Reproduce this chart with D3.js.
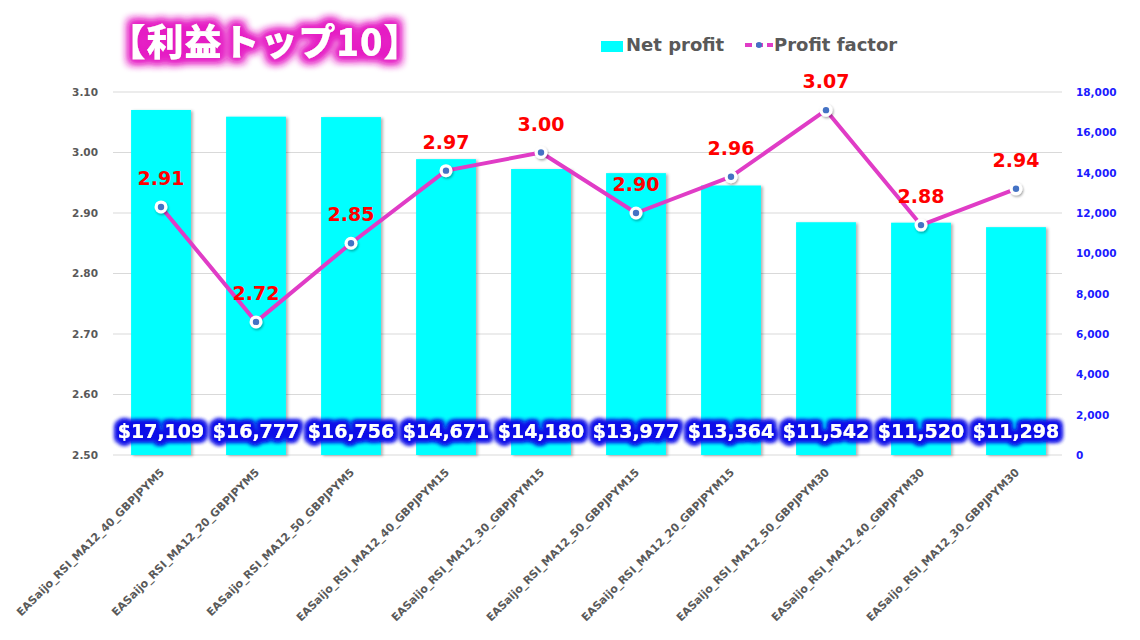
<!DOCTYPE html>
<html>
<head>
<meta charset="utf-8">
<script src="https://cdn.jsdelivr.net/npm/d3@7"></script>
<style>
  html, body { margin: 0; padding: 0; background: #ffffff; }
  svg { display: block; }
</style>
</head>
<body>
<svg id="chart" width="1140" height="640"></svg>
<script>
const categories = [
  "EASaijo_RSI_MA12_40_GBPJPYM5",
  "EASaijo_RSI_MA12_20_GBPJPYM5",
  "EASaijo_RSI_MA12_50_GBPJPYM5",
  "EASaijo_RSI_MA12_40_GBPJPYM15",
  "EASaijo_RSI_MA12_30_GBPJPYM15",
  "EASaijo_RSI_MA12_50_GBPJPYM15",
  "EASaijo_RSI_MA12_20_GBPJPYM15",
  "EASaijo_RSI_MA12_50_GBPJPYM30",
  "EASaijo_RSI_MA12_40_GBPJPYM30",
  "EASaijo_RSI_MA12_30_GBPJPYM30"
];
const netProfit = [17109, 16777, 16756, 14671, 14180, 13977, 13364, 11542, 11520, 11298];
const profitFactor = [2.91, 2.72, 2.85, 2.97, 3.00, 2.90, 2.96, 3.07, 2.88, 2.94];
const leftTicks = [2.50, 2.60, 2.70, 2.80, 2.90, 3.00, 3.10];
const rightTicks = [0, 2000, 4000, 6000, 8000, 10000, 12000, 14000, 16000, 18000];
const titleText = "【利益トップ10】";
const legendLabels = ["Net profit", "Profit factor"];

const svg = d3.select("#chart");
const FONT = "'DejaVu Sans', Verdana, sans-serif";

const defs = svg.append("defs");
// title glow
const tg = defs.append("filter").attr("id", "titleGlow").attr("x", "-20%").attr("y", "-50%").attr("width", "140%").attr("height", "200%");
tg.append("feMorphology").attr("in", "SourceAlpha").attr("operator", "dilate").attr("radius", 3.5).attr("result", "d");
tg.append("feGaussianBlur").attr("in", "d").attr("stdDeviation", 4.5).attr("result", "b");
tg.append("feFlood").attr("flood-color", "#e51fc4").attr("result", "c");
tg.append("feComposite").attr("in", "c").attr("in2", "b").attr("operator", "in").attr("result", "g");
const tm = tg.append("feMerge");
tm.append("feMergeNode").attr("in", "g");
tm.append("feMergeNode").attr("in", "g");
tm.append("feMergeNode").attr("in", "SourceGraphic");
// value label glow
const vg = defs.append("filter").attr("id", "valGlow").attr("x", "-20%").attr("y", "-50%").attr("width", "140%").attr("height", "200%");
vg.append("feMorphology").attr("in", "SourceAlpha").attr("operator", "dilate").attr("radius", 2.5).attr("result", "d");
vg.append("feGaussianBlur").attr("in", "d").attr("stdDeviation", 2.5).attr("result", "b");
vg.append("feFlood").attr("flood-color", "#1010e8").attr("result", "c");
vg.append("feComposite").attr("in", "c").attr("in2", "b").attr("operator", "in").attr("result", "g");
const vm = vg.append("feMerge");
vm.append("feMergeNode").attr("in", "g");
vm.append("feMergeNode").attr("in", "g");
vm.append("feMergeNode").attr("in", "g");
vm.append("feMergeNode").attr("in", "SourceGraphic");
// bar shadow
const bs = defs.append("filter").attr("id", "barShadow").attr("x", "-10%").attr("y", "-10%").attr("width", "130%").attr("height", "130%");
bs.append("feDropShadow").attr("dx", 2).attr("dy", 1).attr("stdDeviation", 1.5).attr("flood-color", "#000").attr("flood-opacity", 0.3);
const ms = defs.append("filter").attr("id", "markShadow").attr("x", "-50%").attr("y", "-50%").attr("width", "200%").attr("height", "200%");
ms.append("feDropShadow").attr("dx", 1).attr("dy", 1.5).attr("stdDeviation", 1.2).attr("flood-color", "#000").attr("flood-opacity", 0.35);

const x = d3.scaleBand().domain(categories).range([113.5, 1063.5]).paddingInner(0.37).paddingOuter(0.185);
const yL = d3.scaleLinear().domain([2.5, 3.1]).range([455, 92]);
const yR = d3.scaleLinear().domain([0, 18000]).range([455, 92]);

// gridlines
svg.append("g").selectAll("line").data(leftTicks).join("line")
  .attr("x1", 113).attr("x2", 1062)
  .attr("y1", d => yL(d)).attr("y2", d => yL(d))
  .attr("stroke", "#d9d9d9").attr("stroke-width", 1);

// left axis
const leftAxis = d3.axisLeft(yL).tickValues(leftTicks).tickFormat(d3.format(".2f")).tickSize(0).tickPadding(0);
const gl = svg.append("g").attr("transform", "translate(98,0)").call(leftAxis);
gl.select(".domain").remove();
gl.selectAll("text").attr("font-family", FONT).attr("font-size", "10.5px").attr("font-weight", "bold").attr("fill", "#595959");

// right axis
const rightAxis = d3.axisRight(yR).tickValues(rightTicks).tickFormat(d3.format(",")).tickSize(0).tickPadding(0);
const gr = svg.append("g").attr("transform", "translate(1076,0)").call(rightAxis);
gr.select(".domain").remove();
gr.selectAll("text").attr("font-family", FONT).attr("font-size", "10.5px").attr("font-weight", "bold").attr("fill", "#1a1aff");

// bars
svg.append("g").selectAll("rect").data(categories).join("rect")
  .attr("x", d => x(d)).attr("width", x.bandwidth())
  .attr("y", (d, i) => yR(netProfit[i])).attr("height", (d, i) => yR(0) - yR(netProfit[i]))
  .attr("fill", "#00ffff").attr("filter", "url(#barShadow)");

// x axis labels
const bottomAxis = d3.axisBottom(x).tickSize(0).tickPadding(0);
const gb = svg.append("g").attr("transform", "translate(0,455)").call(bottomAxis);
gb.select(".domain").remove();
gb.selectAll(".tick text")
  .attr("font-family", FONT).attr("font-size", "11px").attr("font-weight", "bold").attr("fill", "#595959")
  .attr("text-anchor", "end").attr("dy", null).attr("y", null)
  .attr("transform", "translate(4,18) rotate(-45)");

// line
const line = d3.line().x((d, i) => x(categories[i]) + x.bandwidth() / 2).y(d => yL(d));
svg.append("path").datum(profitFactor).attr("d", line)
  .attr("fill", "none").attr("stroke", "#e03cc6").attr("stroke-width", 4).attr("stroke-linejoin", "round");

// markers
const mk = svg.append("g").selectAll("g").data(profitFactor).join("g")
  .attr("transform", (d, i) => `translate(${x(categories[i]) + x.bandwidth() / 2},${yL(d)})`);
mk.append("circle").attr("r", 6.5).attr("fill", "#ffffff").attr("filter", "url(#markShadow)");
mk.append("circle").attr("r", 3.2).attr("fill", "#4472c4");

// PF labels
svg.append("g").selectAll("text").data(profitFactor).join("text")
  .attr("x", (d, i) => x(categories[i]) + x.bandwidth() / 2)
  .attr("y", d => yL(d) - 22)
  .attr("text-anchor", "middle")
  .attr("font-family", FONT).attr("font-size", "19px").attr("font-weight", "bold").attr("fill", "#ff0000")
  .text(d => d3.format(".2f")(d));

// net profit labels
svg.append("g").selectAll("text").data(netProfit).join("text")
  .attr("x", (d, i) => x(categories[i]) + x.bandwidth() / 2)
  .attr("y", 438)
  .attr("text-anchor", "middle")
  .attr("font-family", FONT).attr("font-size", "19px").attr("font-weight", "bold").attr("fill", "#ffffff")
  .attr("filter", "url(#valGlow)")
  .text(d => "$" + d3.format(",")(d));

// title
svg.append("text").attr("x", 265).attr("y", 56).attr("text-anchor", "middle")
  .attr("font-family", "'Noto Sans CJK JP', sans-serif").attr("font-size", "37px").attr("font-weight", "900")
  .attr("letter-spacing", "1px")
  .attr("fill", "#ffffff").attr("filter", "url(#titleGlow)")
  .text(titleText);

// legend
const lg = svg.append("g");
lg.append("rect").attr("x", 601).attr("y", 41).attr("width", 22).attr("height", 11).attr("fill", "#00ffff");
lg.append("text").attr("x", 626).attr("y", 51).attr("font-family", FONT).attr("font-size", "18px").attr("font-weight", "bold").attr("fill", "#595959").text(legendLabels[0]);
lg.append("line").attr("x1", 745).attr("x2", 773).attr("y1", 45).attr("y2", 45)
  .attr("stroke", "#e03cc6").attr("stroke-width", 4).attr("stroke-dasharray", "7,4");
lg.append("circle").attr("cx", 759).attr("cy", 45).attr("r", 3).attr("fill", "#4472c4");
lg.append("text").attr("x", 774).attr("y", 51).attr("font-family", FONT).attr("font-size", "18px").attr("font-weight", "bold").attr("fill", "#595959").text(legendLabels[1]);
</script>
</body>
</html>
